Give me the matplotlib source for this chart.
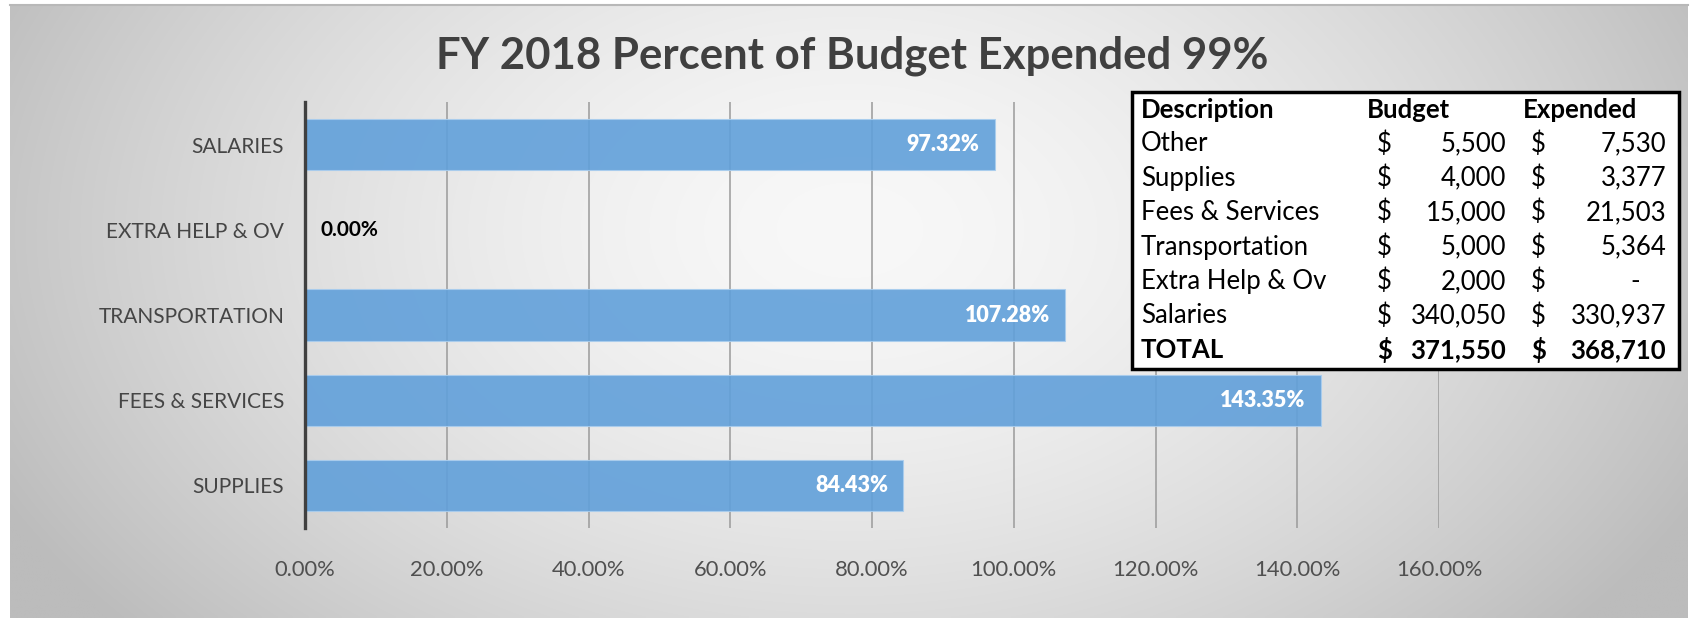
import numpy as np
import matplotlib
matplotlib.use("Agg")
import matplotlib.pyplot as plt
from matplotlib.patches import Rectangle

# ---- data ----
categories = ["SUPPLIES", "FEES & SERVICES", "TRANSPORTATION", "EXTRA HELP & OV", "SALARIES"]
pct_expended = [84.43, 143.35, 107.28, 0.00, 97.32]
x_ticks = [0, 20, 40, 60, 80, 100, 120, 140, 160]

table_desc = ["Other", "Supplies", "Fees & Services", "Transportation", "Extra Help & Ov", "Salaries"]
table_budget = [5500, 4000, 15000, 5000, 2000, 340050]
table_expended = [7530, 3377, 21503, 5364, 0, 330937]
total_budget = 371550
total_expended = 368710

title = "FY 2018 Percent of Budget Expended 99%"

FONT = ["Lato", "DejaVu Sans"]
plt.rcParams['font.family'] = FONT

W, H = 1691, 618
fig = plt.figure(figsize=(W / 100, H / 100), dpi=100, facecolor="white")

# ---- background gradient ----
bg = fig.add_axes([0, 0, 1, 1], zorder=0)
bg.set_xlim(0, W)
bg.set_ylim(H, 0)
bg.axis("off")
x0, x1, y0, y1 = 10, 1688, 4, 618
xx, yy = np.meshgrid(np.linspace(x0, x1, 400), np.linspace(y0, y1, 200))
cx, cy, rx, ry = 850, 230, 950, 620
d = np.sqrt(((xx - cx) / rx) ** 2 + ((yy - cy) / ry) ** 2)
v = 248 - (248 - 188) * np.clip(d, 0, 1) ** 1.6
img = np.dstack([v, v, v]) / 255.0
bg.imshow(img, extent=(x0, x1, y1, y0), aspect="auto", interpolation="bilinear")
bg.plot([x0, x1], [y0 + 0.5, y0 + 0.5], color="#b8b8b8", lw=1.5)

# ---- main bar axes ----
ax = fig.add_axes([305 / W, 1 - 528 / H, (1439 - 305) / W, (528 - 102) / H], zorder=1)
ax.patch.set_alpha(0)
ypos = np.arange(len(categories))
ax.barh(ypos, pct_expended, height=0.6, color="#61a0da", alpha=0.9,
        edgecolor="#a9cdee", linewidth=0.8, zorder=2)
ax.set_xlim(0, 160)
ax.set_ylim(-0.5, len(categories) - 0.5)
ax.set_xticks(x_ticks)
ax.set_xticklabels([f"{t:.2f}%" for t in x_ticks], fontsize=15.8, color="#505050")
ax.set_yticks(ypos)
ax.set_yticklabels(categories, fontsize=15, color="#454545")
ax.tick_params(axis="x", length=0, pad=23)
ax.tick_params(axis="y", length=0, pad=15)
ax.grid(axis="x", color="#9a9a9a", linewidth=1.1, zorder=1)
ax.set_axisbelow(True)
for s in ["top", "right", "bottom"]:
    ax.spines[s].set_visible(False)
ax.spines["left"].set_color("#404040")
ax.spines["left"].set_linewidth(2.4)
ax.spines["left"].set_zorder(3)

for yi, val in zip(ypos, pct_expended):
    if val > 5:
        ax.annotate(f"{val:.2f}%", xy=(val, yi), xytext=(-11, 0), textcoords="offset points",
                    ha="right", va="center", color="white", fontsize=15.5, fontweight="heavy", zorder=4)
    else:
        ax.annotate(f"{val:.2f}%", xy=(val, yi), xytext=(11, 0), textcoords="offset points",
                    ha="left", va="center", color="black", fontsize=15, fontweight="bold", zorder=4)

# ---- title ----
fig.text(852 / W, 1 - 56 / H, title, ha="center", va="center", fontsize=31.5,
         fontweight="bold", color="#404040")

# ---- table overlay ----
tb = fig.add_axes([0, 0, 1, 1], zorder=5)
tb.set_xlim(0, W)
tb.set_ylim(H, 0)
tb.axis("off")
tb.add_patch(Rectangle((1132, 92), 1679 - 1132, 369 - 92, facecolor="white",
                       edgecolor="black", linewidth=2.5))
row_y0, row_dy = 109.5, 34.4
fs = 18.5
tb.text(1141, row_y0, "Description", ha="left", va="center", fontsize=fs, fontweight="bold", color="black")
tb.text(1367, row_y0, "Budget", ha="left", va="center", fontsize=fs, fontweight="bold", color="black")
tb.text(1523, row_y0, "Expended", ha="left", va="center", fontsize=fs, fontweight="bold", color="black")


def money(v):
    return f"{v:,.0f}" if v else "-"


rows = list(zip(table_desc, table_budget, table_expended)) + [("TOTAL", total_budget, total_expended)]
for i, (desc, b, e) in enumerate(rows):
    y = row_y0 + (i + 1) * row_dy
    fw = "bold" if desc == "TOTAL" else "normal"
    tb.text(1141, y, desc, ha="left", va="center", fontsize=fs, fontweight=fw, color="black")
    tb.text(1377, y, "$", ha="left", va="center", fontsize=fs, fontweight=fw, color="black")
    tb.text(1506, y, money(b), ha="right", va="center", fontsize=fs, fontweight=fw, color="black")
    tb.text(1531, y, "$", ha="left", va="center", fontsize=fs, fontweight=fw, color="black")
    if e:
        tb.text(1666, y, money(e), ha="right", va="center", fontsize=fs, fontweight=fw, color="black")
    else:
        tb.text(1640, y, "-", ha="right", va="center", fontsize=fs, fontweight=fw, color="black")

fig.savefig("out.png", dpi=100, facecolor="white")
